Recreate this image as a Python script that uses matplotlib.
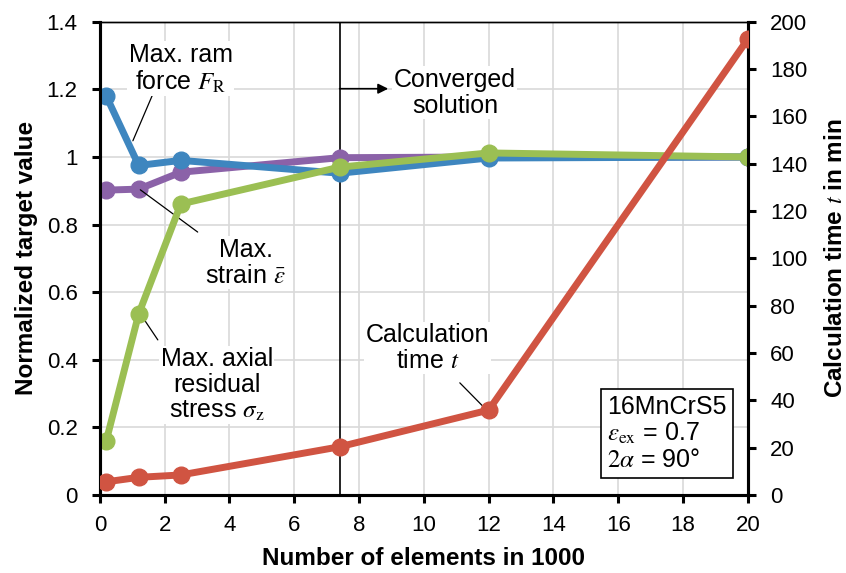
import numpy as np
import matplotlib.pyplot as plt

plt.rcParams['font.family'] = ['Liberation Sans', 'DejaVu Sans']
plt.rcParams['mathtext.fontset'] = 'stix'

# number of elements (in 1000)
elements = [0.2, 1.2, 2.5, 7.4, 12, 20]
# normalized target values
ram_force = [1.18, 0.975, 0.99, 0.952, 0.997, 1.0]
strain = [0.902, 0.905, 0.955, 0.998, 1.0, 1.0]
axial_stress = [0.161, 0.536, 0.861, 0.970, 1.012, 1.0]
# calculation time in min
calc_time = [5.6, 7.5, 8.5, 20.4, 35.9, 192.7]
converged_at = 7.4

c_blue = '#3E86BF'
c_purple = '#8B62A8'
c_green = '#9BBF53'
c_red = '#D05442'

fig = plt.figure(figsize=(8.46, 5.73), dpi=100)
ax = fig.add_axes([0.118, 0.136, 0.766, 0.826])
ax2 = ax.twinx()

lw, ms = 5, 12
ax.plot(elements, strain, '-o', color=c_purple, lw=lw, ms=ms, zorder=3)
ax.plot(elements, ram_force, '-o', color=c_blue, lw=lw, ms=ms, zorder=4)
ax.plot(elements, axial_stress, '-o', color=c_green, lw=lw, ms=ms, zorder=5)
ax2.plot(elements, calc_time, '-o', color=c_red, lw=lw, ms=ms, zorder=5)

ax.axvline(converged_at, color='black', lw=1.2, zorder=2)

ax.set_xlim(0, 20)
ax.set_ylim(0, 1.4)
ax2.set_ylim(0, 200)
ax.set_xticks(np.arange(0, 21, 2))
ax.set_yticks(np.arange(0, 1.41, 0.2))
ax.set_yticklabels(['0', '0.2', '0.4', '0.6', '0.8', '1', '1.2', '1.4'])
ax2.set_yticks(np.arange(0, 201, 20))
ax.grid(True, color='#D9D9D9', lw=1.2, zorder=0)
ax.set_axisbelow(True)

for a in (ax, ax2):
    for s in ('left', 'bottom', 'right'):
        a.spines[s].set_linewidth(2.2)
    a.spines['top'].set_linewidth(1.0)
    a.tick_params(labelsize=16, width=2.2, length=6, direction='out', pad=10)
ax.tick_params(axis='x', pad=8)

ax.set_xlabel('Number of elements in 1000', fontsize=17.5, fontweight='bold', labelpad=8)
ax.set_ylabel('Normalized target value', fontsize=17.5, fontweight='bold', labelpad=6)
ax2.set_ylabel('Calculation time $t$ in min', fontsize=17.5, fontweight='bold', labelpad=12)

txt = dict(fontsize=18, ha='center', va='center', linespacing=1.1,
           bbox=dict(fc='white', ec='none', pad=1), zorder=6)
leader = dict(arrowstyle='-', color='black', lw=0.9, shrinkA=0, shrinkB=0)

ax.text(2.5, 1.261, 'Max. ram\nforce $F_\\mathrm{R}$', **txt)
ax.annotate('', xy=(1.02, 1.048), xytext=(1.64, 1.187), arrowprops=leader)

ax.text(4.5, 0.687, 'Max.\nstrain $\\bar{\\varepsilon}$', **txt)
ax.annotate('', xy=(1.25, 0.903), xytext=(3.02, 0.778), arrowprops=leader)

ax.text(3.61, 0.326, 'Max. axial\nresidual\nstress $\\sigma_\\mathrm{z}$', **txt)
ax.annotate('', xy=(1.23, 0.539), xytext=(1.79, 0.459), arrowprops=leader)

ax.text(10.12, 0.435, 'Calculation\ntime $t$', **txt)
ax.annotate('', xy=(11.85, 0.26), xytext=(11.11, 0.332), arrowprops=leader)

ax.text(10.96, 1.19, 'Converged\nsolution', **txt)
ax.annotate('', xy=(8.9, 1.202), xytext=(converged_at, 1.202),
            arrowprops=dict(arrowstyle='-|>', color='black', lw=1.2,
                            mutation_scale=15, shrinkA=0, shrinkB=0))

ax2.text(15.65, 26, '16MnCrS5\n$\\varepsilon_\\mathrm{ex}$ = 0.7\n$2\\alpha$ = 90°',
         fontsize=18, ha='left', va='center', linespacing=1.1, zorder=7,
         bbox=dict(boxstyle='square,pad=0.25', fc='white', ec='black', lw=1.2))

fig.savefig('out.png', dpi=100)
